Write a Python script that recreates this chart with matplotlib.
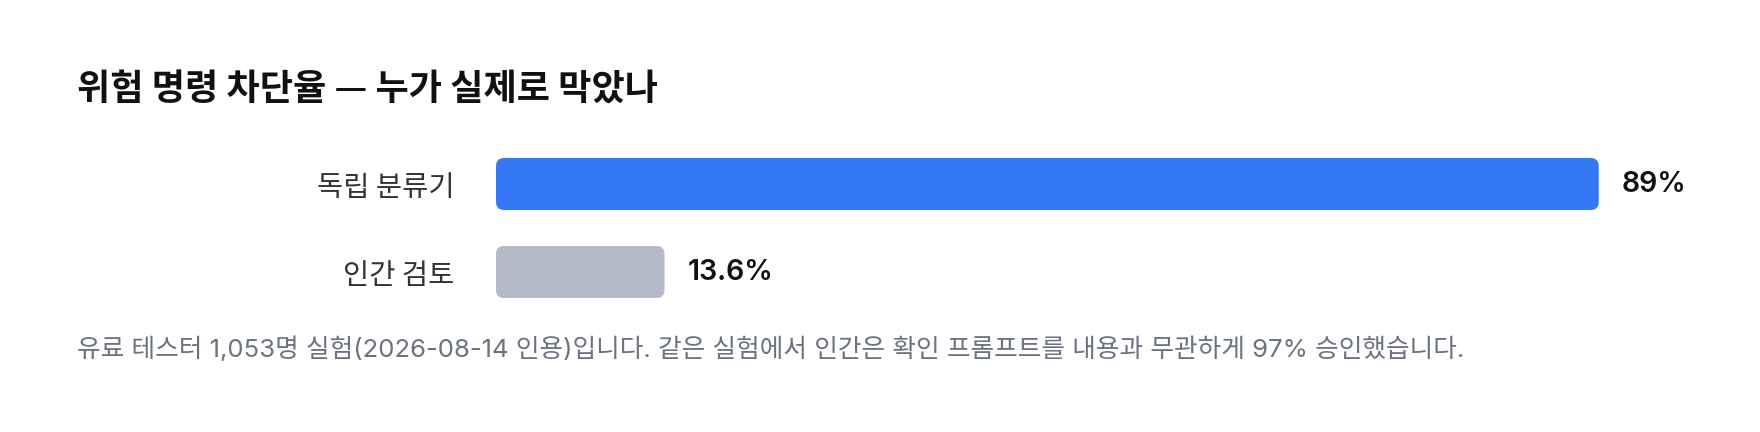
import matplotlib.pyplot as plt
from matplotlib.patches import FancyBboxPatch

# data
categories = ["독립 분류기", "인간 검토"]
block_rates = [89, 13.6]
value_labels = ["89%", "13.6%"]
bar_colors = ["#3478f6", "#b3bac6"]

title = "위험 명령 차단율 — 누가 실제로 막았나"
note = ("유료 테스터 1,053명 실험(2026-08-14 인용)입니다. "
        "같은 실험에서 인간은 확인 프롬프트를 내용과 무관하게 97% 승인했습니다.")

KR = ["Noto Sans CJK KR", "DejaVu Sans"]
MIX = ["Inter", "Noto Sans CJK KR", "DejaVu Sans"]

W, H = 1760, 432
fig = plt.figure(figsize=(W / 100, H / 100), dpi=100, facecolor="white")
ax = fig.add_axes([496 / W, (H - 316) / H, (1735 - 496) / W, 176 / H])

bars = ax.barh(range(len(categories)), block_rates, height=52 / 88, color=bar_colors)

# swap plain bars for rounded ones
px_x = (1735 - 496) / 100   # pixels per x unit
px_y = 88                    # pixels per y unit
for b in bars:
    b.set_visible(False)
    patch = FancyBboxPatch(
        (b.get_x(), b.get_y()), b.get_width(), b.get_height(),
        boxstyle=f"round,pad=0,rounding_size={8 / px_x}",
        mutation_aspect=px_x / px_y,
        facecolor=b.get_facecolor(), edgecolor="none",
    )
    ax.add_patch(patch)

for i, (v, lab) in enumerate(zip(block_rates, value_labels)):
    ax.annotate(lab, (v, i), xytext=(16.5, 0), textcoords="offset points",
                va="center", ha="left", fontsize=20.5, fontweight="semibold",
                color="#111111", family=MIX)

ax.set_xlim(0, 100)
ax.set_ylim(1.5, -0.5)
ax.set_yticks(range(len(categories)))
ax.set_yticklabels(categories, family=KR, fontsize=20.5, color="#333333")
ax.tick_params(axis="y", length=0, pad=30)
ax.set_xticks([])
for s in ax.spines.values():
    s.set_visible(False)

fig.text(77 / W, 1 - 90 / H, title, ha="left", va="center",
         fontsize=26, fontweight="bold", color="#111111", family=KR)
fig.text(77 / W, 1 - 349 / H, note, ha="left", va="center",
         fontsize=18.5, color="#6b7280", family=MIX)

fig.savefig("out.png", dpi=100, facecolor="white")
